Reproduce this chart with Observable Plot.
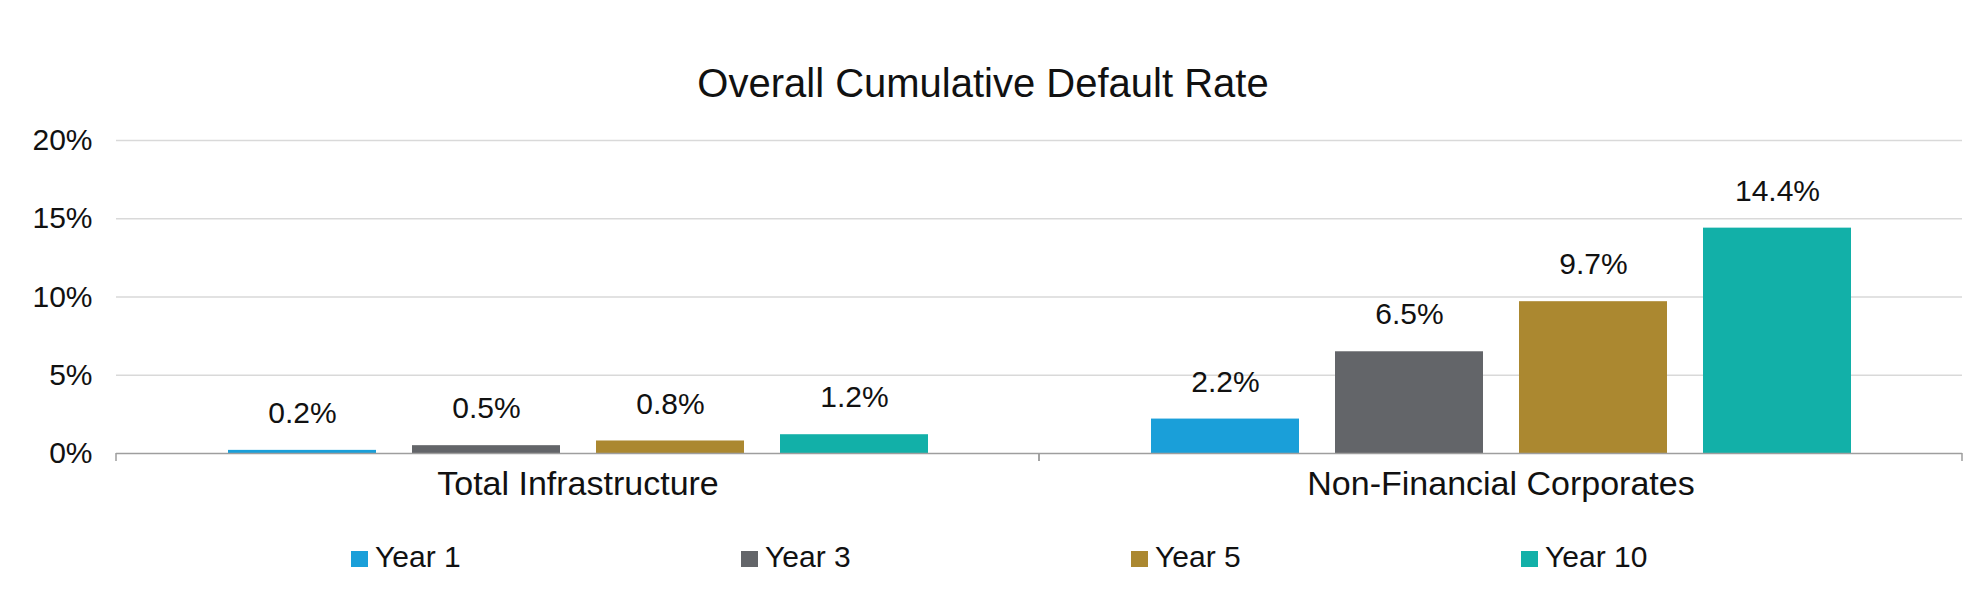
<!DOCTYPE html>
<html>
<head>
<meta charset="utf-8">
<script src="https://cdn.jsdelivr.net/npm/d3@7"></script>
<script src="https://cdn.jsdelivr.net/npm/@observablehq/plot@0.6"></script>
<style>
  html, body { margin: 0; padding: 0; background: #ffffff; }
  body { width: 1966px; font-family: "Liberation Sans", Arial, sans-serif; color: #111111; }
  #title {
    box-sizing: border-box; height: 110px; padding-top: 63px;
    font-size: 40px; line-height: 40px; text-align: center; color: #111111;
  }
  #chart svg { display: block; }
  #legend {
    margin-top: 32px; padding-left: 351px; display: flex;
    font-size: 30px; line-height: 30px;
  }
  #legend .item { width: 390px; white-space: nowrap; }
  #legend .swatch {
    display: inline-block; width: 17px; height: 16px; margin-right: 7px;
    vertical-align: baseline;
  }
</style>
</head>
<body>
<div id="title">Overall Cumulative Default Rate</div>
<div id="chart"></div>
<div id="legend"></div>
<script>
// Cumulative default rates (%) by horizon
const categories = ["Total Infrastructure", "Non-Financial Corporates"];
const years = ["Year 1", "Year 3", "Year 5", "Year 10"];
const totalInfrastructure = [0.2, 0.5, 0.8, 1.2];
const nonFinancialCorporates = [2.2, 6.5, 9.7, 14.4];
const yTicks = [0, 5, 10, 15, 20];
const colors = ["#1a9fd9", "#636569", "#ab8830", "#12b0a8"];

const seriesByCategory = [totalInfrastructure, nonFinancialCorporates];
const rows = categories.flatMap((category, i) =>
  years.map((year, j) => ({category, year, value: seriesByCategory[i][j]}))
);

// Small downward ticks at the edges of each category band on the baseline
function bandEdgeTicks(index, scales) {
  const [x0, x1] = scales.x.range();
  const y0 = scales.y(0);
  const g = d3.create("svg:g").attr("stroke", "#9e9e9e").attr("stroke-width", 1.5);
  for (const x of [x0, x1]) {
    g.append("line").attr("x1", x).attr("x2", x).attr("y1", y0).attr("y2", y0 + 8);
  }
  return g.node();
}

const chart = Plot.plot({
  width: 1966,
  height: 400,
  marginTop: 30,
  marginBottom: 57,
  marginLeft: 115,
  marginRight: 4,
  style: {fontFamily: "Liberation Sans, Arial, sans-serif", fontSize: "30px", color: "#111111", background: "transparent"},
  fx: {domain: categories, padding: 0},
  x: {domain: years, paddingInner: 0.198, paddingOuter: 0.607, axis: null},
  y: {domain: [0, 20]},
  color: {domain: years, range: colors},
  marks: [
    Plot.gridY(yTicks.filter((d) => d > 0), {stroke: "#d9d9d9", strokeOpacity: 1, strokeWidth: 1.5}),
    Plot.axisY(yTicks, {tickSize: 0, tickPadding: 24, tickFormat: (d) => `${d}%`, fontSize: 30, label: null}),
    Plot.axisFx({anchor: "bottom", tickSize: 0, tickPadding: 17, fontSize: 34, label: null}),
    Plot.barY(rows, {fx: "category", x: "year", y: "value", fill: "year"}),
    Plot.text(rows, {
      fx: "category", x: "year", y: "value",
      text: (d) => `${d.value.toFixed(1)}%`,
      dy: -37, fontSize: 30, fill: "#111111"
    }),
    Plot.ruleY([0], {stroke: "#9e9e9e", strokeWidth: 1.5}),
    bandEdgeTicks
  ]
});
document.getElementById("chart").appendChild(chart);

// Legend
const legend = d3.select("#legend");
years.forEach((year, i) => {
  const item = legend.append("div").attr("class", "item");
  item.append("span").attr("class", "swatch").style("background", colors[i]);
  item.append("span").text(year);
});
</script>
</body>
</html>
